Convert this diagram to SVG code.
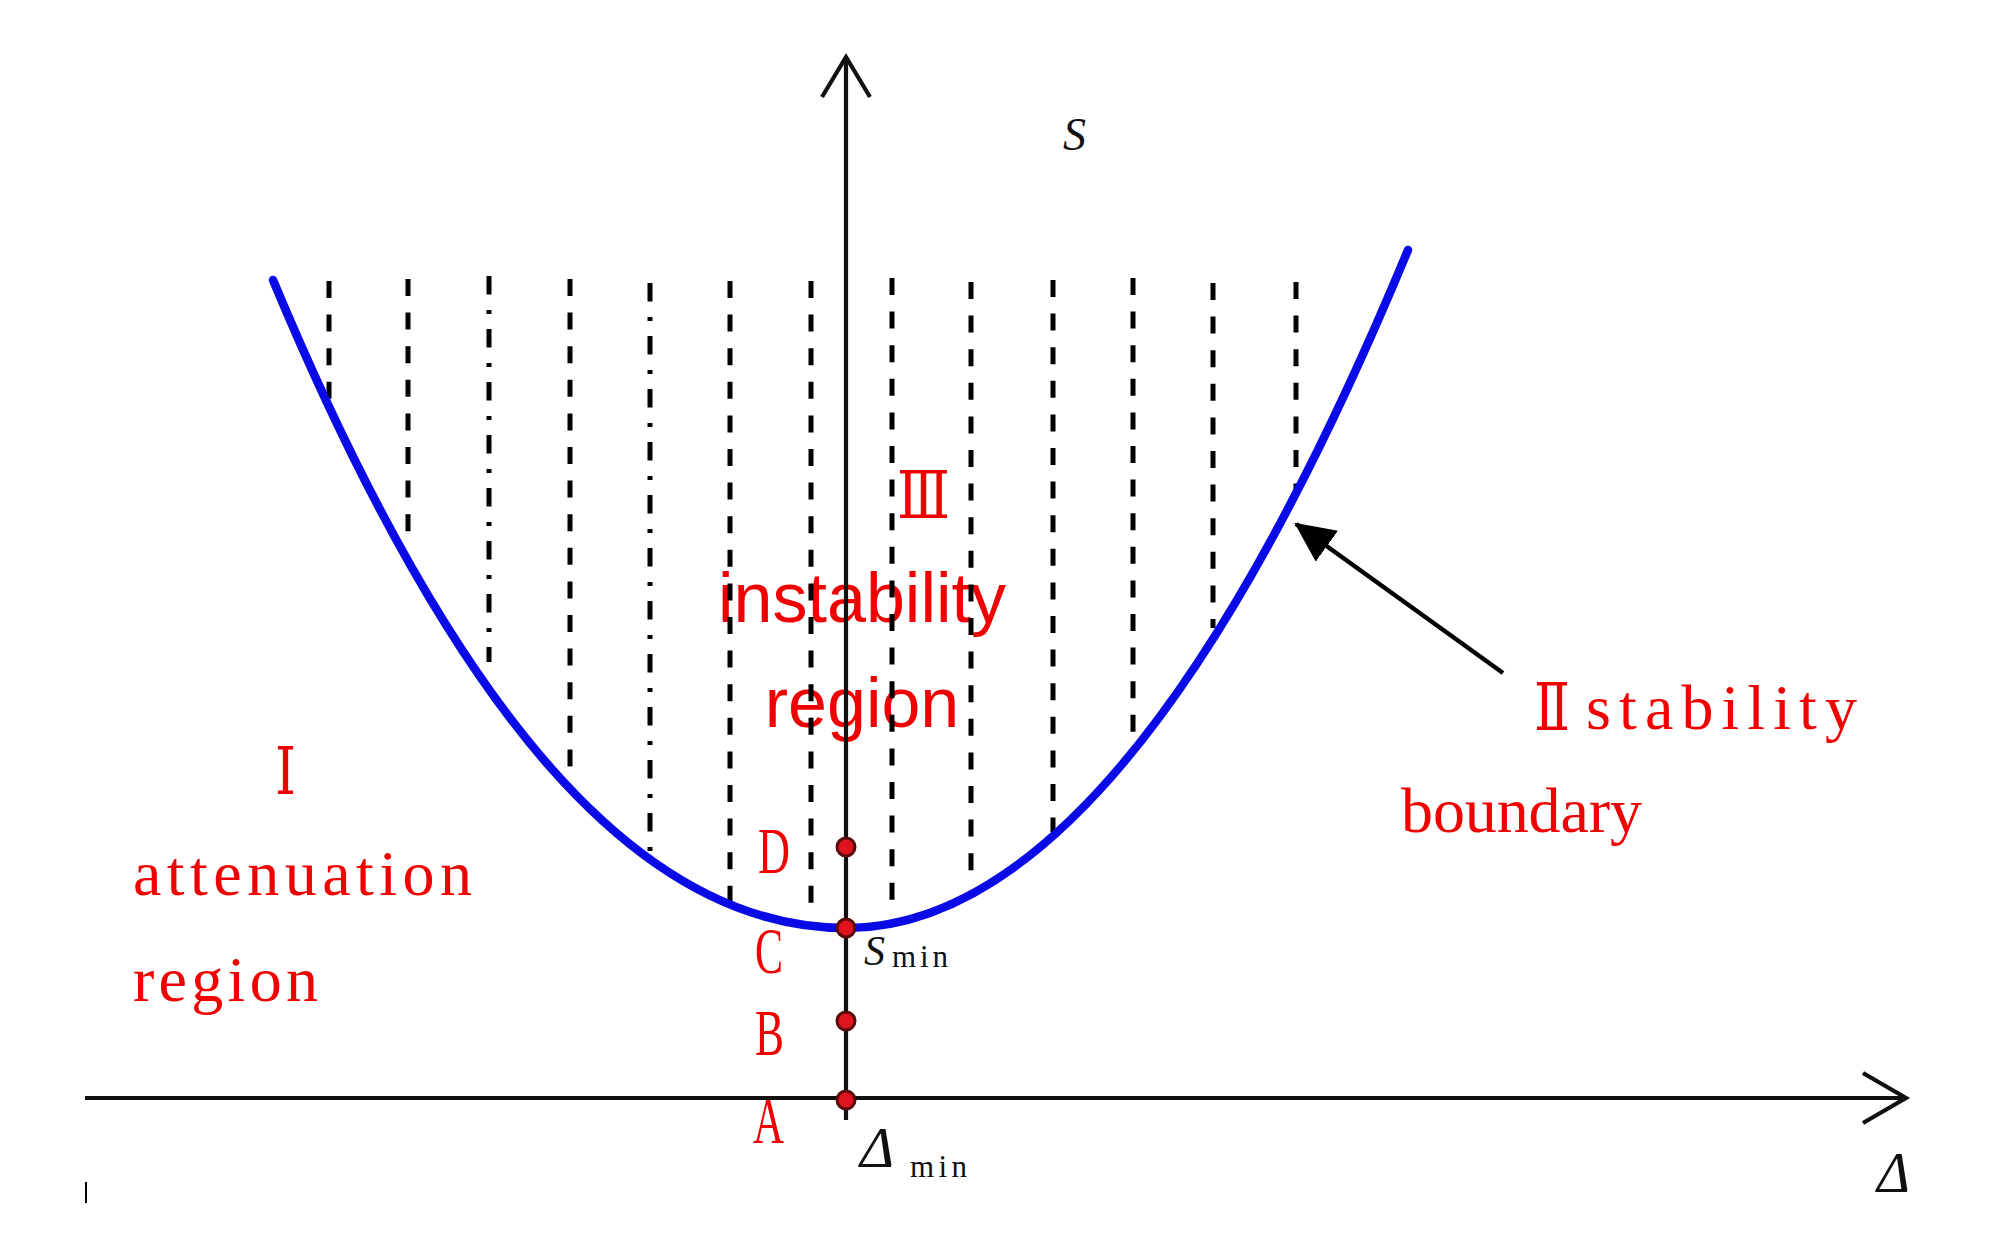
<svg xmlns="http://www.w3.org/2000/svg" width="1995" height="1240" viewBox="0 0 1995 1240">
<style>
.bg{fill:#fff}
.dash{stroke:#000;stroke-width:5;fill:none;stroke-dasharray:17 16.6}
.dashdot{stroke:#000;stroke-width:5;fill:none;stroke-dasharray:18.5 15.5 4 15}
.axis{stroke:#111;stroke-width:4.2;fill:none}
.curve{stroke:#0a0ae6;stroke-width:8.5;fill:none;stroke-linecap:round}
.pt{fill:#e0141e;stroke:#5a0a0a;stroke-width:3}
.red{fill:#f00000;font-family:"Liberation Serif","DejaVu Serif","Noto Sans CJK SC",serif}
.sans{fill:#f00000;font-family:"Liberation Sans",Arial,sans-serif;font-size:70px}
.math{fill:#111;font-family:"Liberation Serif","DejaVu Serif",serif}
.ptr{stroke:#000;stroke-width:4.5;fill:none}
</style>
<defs>
<marker id="tri" viewBox="0 0 40 38" refX="38" refY="19" markerWidth="40" markerHeight="38" markerUnits="userSpaceOnUse" orient="auto">
<path d="M0,0 L40,19 L0,38 Z" fill="#000"/>
</marker>
</defs>
<rect class="bg" x="0" y="0" width="1995" height="1240"/>

<g id="labels">
<text class="sans" x="862" y="622" text-anchor="middle">instability</text>
<text class="sans" x="862" y="727" text-anchor="middle">region</text>
</g>

<g id="hatching">
<line class="dash" x1="329" y1="281" x2="329" y2="402"/>
<line class="dash" x1="408" y1="279" x2="408" y2="545"/>
<line class="dashdot" x1="489" y1="276" x2="489" y2="662"/>
<line class="dash" x1="570" y1="279" x2="570" y2="772"/>
<line class="dashdot" x1="650" y1="283" x2="650" y2="852"/>
<line class="dash" x1="730" y1="281" x2="730" y2="905"/>
<line class="dash" x1="811" y1="281" x2="811" y2="905"/>
<line class="dash" x1="892" y1="278" x2="892" y2="905"/>
<line class="dash" x1="971" y1="282" x2="971" y2="878"/>
<line class="dash" x1="1053" y1="280" x2="1053" y2="832"/>
<line class="dash" x1="1133" y1="278" x2="1133" y2="738"/>
<line class="dash" x1="1213" y1="283" x2="1213" y2="628"/>
<line class="dash" x1="1296" y1="282" x2="1296" y2="492"/>
</g>

<g id="boundary-curve">
<path class="curve" d="M273,280 C455,716 640,928 846,928 Q1127,928 1408,250"/>
</g>

<g id="axes">
<line class="axis" x1="846" y1="57" x2="846" y2="1120"/>
<polyline class="axis" points="822,97 846,57 870,97"/>
<line class="axis" x1="85" y1="1098" x2="1906" y2="1098"/>
<polyline class="axis" points="1863,1073 1906,1098 1863,1123"/>
<line x1="86" y1="1182" x2="86" y2="1203" stroke="#000" stroke-width="2"/>
</g>

<g id="connectors">
<line class="ptr" x1="1503" y1="673" x2="1296" y2="524" marker-end="url(#tri)"/>
</g>

<g id="points">
<circle class="pt" cx="846" cy="847" r="9"/>
<circle class="pt" cx="846" cy="928" r="9"/>
<circle class="pt" cx="846" cy="1021" r="9"/>
<circle class="pt" cx="846" cy="1100" r="9"/>
</g>

<g id="region-I">
<text class="red" x="275" y="794" font-size="66" textLength="21" lengthAdjust="spacingAndGlyphs">Ⅰ</text>
<text class="red" x="133" y="895" font-size="64" textLength="339" lengthAdjust="spacing">attenuation</text>
<text class="red" x="133" y="1001" font-size="64" textLength="185" lengthAdjust="spacing">region</text>
</g>

<g id="region-II">
<text class="red" x="1534" y="730" font-size="66" textLength="36" lengthAdjust="spacingAndGlyphs">Ⅱ</text>
<text class="red" x="1586" y="729" font-size="64" textLength="271" lengthAdjust="spacing">stability</text>
<text class="red" x="1401" y="832" font-size="64" textLength="241" lengthAdjust="spacing">boundary</text>
</g>

<g id="region-III">
<text class="red" x="897" y="518" font-size="66" textLength="53" lengthAdjust="spacingAndGlyphs">Ⅲ</text>
</g>

<g id="point-labels">
<text class="red" x="758" y="873" font-size="65" textLength="32" lengthAdjust="spacingAndGlyphs">D</text>
<text class="red" x="755" y="973" font-size="65" textLength="28" lengthAdjust="spacingAndGlyphs">C</text>
<text class="red" x="755" y="1055" font-size="65" textLength="29" lengthAdjust="spacingAndGlyphs">B</text>
<text class="red" x="753" y="1143" font-size="65" textLength="31" lengthAdjust="spacingAndGlyphs">A</text>
</g>

<g id="math-labels">
<text class="math" x="1063" y="150" font-size="46" font-style="italic">S</text>
<text class="math" x="864" y="965" font-size="42" font-style="italic">S</text>
<text class="math" x="892" y="967" font-size="31" textLength="56" lengthAdjust="spacing">min</text>
<text class="math" x="860" y="1167" font-size="58" font-style="italic">Δ</text>
<text class="math" x="910" y="1177" font-size="31" textLength="57" lengthAdjust="spacing">min</text>
<text class="math" x="1877" y="1192" font-size="56" font-style="italic" fill="#333">Δ</text>
</g>
</svg>
